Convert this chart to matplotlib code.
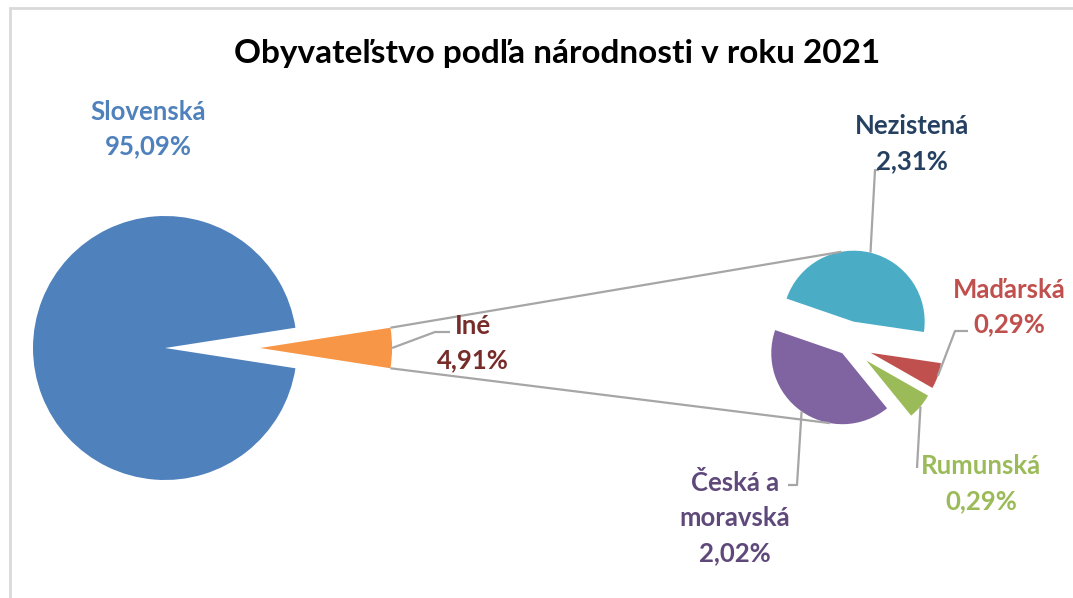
import matplotlib
matplotlib.use('Agg')
import matplotlib.pyplot as plt
from matplotlib.patches import Rectangle
import numpy as np

plt.rcParams['font.family'] = ['Lato', 'DejaVu Sans']

W, H = 1073, 598

title = 'Obyvateľstvo podľa národnosti v roku 2021'

# hlavný koláč
main_labels = ['Slovenská', 'Iné']
main_values = [95.09, 4.91]
main_colors = ['#4F81BD', '#F79646']
main_text_colors = ['#4F81BD', '#772C2A']

# vedľajší koláč (rozpis kategórie "Iné")
sub_labels = ['Nezistená', 'Maďarská', 'Rumunská', 'Česká a\nmoravská']
sub_values = [2.31, 0.29, 0.29, 2.02]
sub_colors = ['#4BACC6', '#C0504D', '#9BBB59', '#8064A2']
sub_text_colors = ['#254061', '#C0504D', '#9BBB59', '#5F497A']


def fmt(v):
    return f'{v:.2f}%'.replace('.', ',')


def img(x, y):
    # pixelové súradnice obrázka -> súradnice osí
    return x, H - y


def on_arc(w, ang):
    cx, cy = w.center
    a = np.deg2rad(ang)
    return cx + w.r * np.cos(a), cy + w.r * np.sin(a)


def mid(w):
    return (w.theta1 + w.theta2) / 2


fig = plt.figure(figsize=(W / 100, H / 100), dpi=100)
ax = fig.add_axes([0, 0, 1, 1])

main_r = 132
ine_share = main_values[1] / sum(main_values)
w_main, _ = ax.pie(main_values, colors=main_colors, radius=main_r,
                   center=img(165, 348), startangle=ine_share * 180,
                   explode=[0, 0.72 * main_r],
                   wedgeprops=dict(linewidth=0))

sub_r = 71
w_sub, _ = ax.pie(sub_values, colors=sub_colors, radius=sub_r,
                  center=img(848, 345), startangle=161, counterclock=False,
                  explode=[24, 24, 24, 10],
                  wedgeprops=dict(linewidth=0))

line_kw = dict(color='#A6A6A6', lw=1.6, solid_capstyle='butt', zorder=1)

# spojovacie čiary medzi koláčmi
w_ine = w_main[1]
for a_ine, w, a_sub in [(w_ine.theta2, w_sub[0], 100), (w_ine.theta1, w_sub[3], 260)]:
    p0 = on_arc(w_ine, a_ine)
    p1 = on_arc(w, a_sub)
    ax.plot([p0[0], p1[0]], [p0[1], p1[1]], **line_kw)

# popisky
fs = 18.5
ls = 1.55
ax.text(*img(148, 129), f'{main_labels[0]}\n{fmt(main_values[0])}',
        ha='center', va='center', fontsize=fs, fontweight='bold',
        color=main_text_colors[0], linespacing=ls)
ax.text(*img(473, 343), f'{main_labels[1]}\n{fmt(main_values[1])}',
        ha='center', va='center', fontsize=fs, fontweight='bold',
        color=main_text_colors[1], linespacing=ls)

sub_pos = [(912, 144), (1009, 307), (981, 484), (735, 518)]
for lab, v, c, pos in zip(sub_labels, sub_values, sub_text_colors, sub_pos):
    ax.text(*img(*pos), f'{lab}\n{fmt(v)}', ha='center', va='center',
            fontsize=fs, fontweight='bold', color=c, linespacing=ls)

# vodiace čiary k popiskom
leaders = [
    (w_ine, [(435, 332), (450, 332)]),
    (w_sub[0], [(875, 170), (879, 170)]),
    (w_sub[1], [(955, 331), (968, 331)]),
    (w_sub[2], [(917, 468)]),
    (w_sub[3], [(797, 485), (788, 485)]),
]
for w, pts in leaders:
    xs, ys = zip(on_arc(w, mid(w)), *[img(*p) for p in pts])
    ax.plot(xs, ys, **line_kw)

ax.text(*img(557, 53), title, ha='center', va='center', fontsize=24,
        fontweight='bold', color='black')

# rám grafu
ax.add_patch(Rectangle(img(10, H + 20), W + 20, H + 20 - 8, fill=False,
                       edgecolor='#D9D9D9', lw=2))

ax.set_xlim(0, W)
ax.set_ylim(0, H)
ax.set_aspect('equal')
ax.axis('off')

fig.savefig('out.png', dpi=100, facecolor='white')
